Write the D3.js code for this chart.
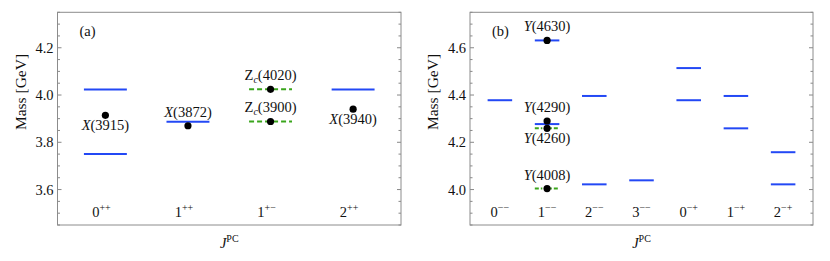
<!DOCTYPE html>
<html>
<head>
<meta charset="utf-8">
<script src="https://cdn.jsdelivr.net/npm/d3@7"></script>
<style>
  body { margin: 0; background: #fff; }
  svg text { font-family: "Liberation Serif", "Times New Roman", serif; fill: #111; }
</style>
</head>
<body>
<svg width="830" height="261"></svg>
<script>
// ---- panel (a) data ----
var jA  = ["0", "1", "1", "2"];
var pcA = ["++", "++", "+\u2212", "++"];
// predicted levels (blue solid)
var levelsA = [
  {c: 0, m: 4.023}, {c: 0, m: 3.750},
  {c: 1, m: 3.887},
  {c: 3, m: 4.023}
];
// molecular levels (green dashed)
var molA = [ {c: 2, m: 4.024}, {c: 2, m: 3.888} ];
// observed states
var statesA = [
  {c: 0, m: 3.914, sym: "X", num: "3915", pos: "below"},
  {c: 1, m: 3.870, sym: "X", num: "3872", pos: "above"},
  {c: 2, m: 4.024, sym: "Z", sub: "c", num: "4020", pos: "above"},
  {c: 2, m: 3.888, sym: "Z", sub: "c", num: "3900", pos: "above"},
  {c: 3, m: 3.940, sym: "X", num: "3940", pos: "below"}
];
var ticksA = [3.6, 3.8, 4.0, 4.2];

// ---- panel (b) data ----
var jB  = ["0", "1", "2", "3", "0", "1", "2"];
var pcB = ["\u2212\u2212", "\u2212\u2212", "\u2212\u2212", "\u2212\u2212", "\u2212+", "\u2212+", "\u2212+"];
var levelsB = [
  {c: 0, m: 4.378},
  {c: 1, m: 4.631}, {c: 1, m: 4.277},
  {c: 2, m: 4.396}, {c: 2, m: 4.022},
  {c: 3, m: 4.039},
  {c: 4, m: 4.514}, {c: 4, m: 4.378},
  {c: 5, m: 4.396}, {c: 5, m: 4.259},
  {c: 6, m: 4.158}, {c: 6, m: 4.022}
];
var molB = [ {c: 1, m: 4.259}, {c: 1, m: 4.004} ];
var statesB = [
  {c: 1, m: 4.631, sym: "Y", num: "4630", pos: "above"},
  {c: 1, m: 4.290, sym: "Y", num: "4290", pos: "above"},
  {c: 1, m: 4.259, sym: "Y", num: "4260", pos: "below"},
  {c: 1, m: 4.004, sym: "Y", num: "4008", pos: "above"}
];
var ticksB = [4.0, 4.2, 4.4, 4.6];

var blue = "#2348f5", green = "#3aa51c";
var svg = d3.select("svg");
var top_ = 12.3, bottom = 225;

function txt(g) {
  return g.append("text").style("font-family", "'Liberation Serif', serif").style("font-size", "14.5px");
}

function panel(opt) {
  var g = svg.append("g");
  var x = d3.scalePoint()
    .domain(d3.range(opt.j.length))
    .range([opt.left, opt.right])
    .padding(opt.pad);
  var y = d3.scaleLinear().domain(opt.ydom).range([bottom, top_]);
  var half = x.step() * 0.26;

  // ticks left & right, inside the frame
  var minor = d3.range(Math.ceil(opt.ydom[0] / 0.05 - 1e-6), Math.floor(opt.ydom[1] / 0.05 + 1e-6) + 1)
    .map(function(k) { return +(k * 0.05).toFixed(2); });
  minor.forEach(function(v) {
    var isMajor = opt.ticks.some(function(t) { return Math.abs(t - v) < 1e-6; });
    var len = isMajor ? 4 : 2.5;
    g.append("line").attr("x1", opt.left).attr("x2", opt.left + len)
      .attr("y1", y(v)).attr("y2", y(v)).attr("stroke", "#888").attr("stroke-width", 1);
    g.append("line").attr("x1", opt.right).attr("x2", opt.right - len)
      .attr("y1", y(v)).attr("y2", y(v)).attr("stroke", "#888").attr("stroke-width", 1);
  });
  opt.ticks.forEach(function(d) {
    txt(g).attr("x", opt.left - 4).attr("y", y(d))
      .attr("dy", "0.35em").attr("text-anchor", "end")
      .text(d3.format(".1f")(d));
  });

  // frame
  g.append("rect").attr("x", opt.left).attr("y", top_)
    .attr("width", opt.right - opt.left).attr("height", bottom - top_)
    .attr("fill", "none").attr("stroke", "#8c8c8c").attr("stroke-width", 1);

  // category labels
  opt.j.forEach(function(jv, i) {
    var t = txt(g).attr("x", x(i) + opt.labShift).attr("y", 217)
      .attr("text-anchor", "middle");
    t.append("tspan").text(jv);
    t.append("tspan").attr("dy", -6).style("font-size", "10px").text(opt.pc[i]);
  });

  // levels
  g.selectAll(".lv").data(opt.levels).enter().append("line")
    .attr("x1", function(d) { return x(d.c) - half; })
    .attr("x2", function(d) { return x(d.c) + half; })
    .attr("y1", function(d) { return y(d.m); })
    .attr("y2", function(d) { return y(d.m); })
    .attr("stroke", blue).attr("stroke-width", 2);
  g.selectAll(".mv").data(opt.mol).enter().append("line")
    .attr("x1", function(d) { return x(d.c) - half; })
    .attr("x2", function(d) { return x(d.c) + half; })
    .attr("y1", function(d) { return y(d.m); })
    .attr("y2", function(d) { return y(d.m); })
    .attr("stroke", green).attr("stroke-width", 2)
    .attr("stroke-dasharray", opt.dash);

  // observed states
  g.selectAll(".st").data(opt.states).enter().append("circle")
    .attr("cx", function(d) { return x(d.c); })
    .attr("cy", function(d) { return y(d.m); })
    .attr("r", 3.6).attr("fill", "#000");
  opt.states.forEach(function(d) {
    var by = d.pos == "above" ? y(d.m) - 9 : y(d.m) + 15;
    var t = txt(g).attr("x", x(d.c)).attr("y", by).attr("text-anchor", "middle");
    if (d.sub) {
      t.append("tspan").text(d.sym);
      t.append("tspan").attr("dy", 3).style("font-size", "10px").style("font-style", "italic").text(d.sub);
      t.append("tspan").attr("dy", -3).text("(" + d.num + ")");
    } else {
      t.append("tspan").style("font-style", "italic").text(d.sym);
      t.append("tspan").text("(" + d.num + ")");
    }
  });

  // panel tag
  txt(g).attr("x", opt.left + 22).attr("y", 36).text(opt.tag);

  // axis titles
  var cx = (opt.left + opt.right) / 2;
  var jt = txt(g).attr("x", cx).attr("y", 248).attr("text-anchor", "middle");
  jt.append("tspan").style("font-style", "italic").text("J");
  jt.append("tspan").attr("dy", -6).style("font-size", "10px").text("PC");

  txt(g)
    .attr("transform", "translate(" + (opt.left - 32) + "," + 92 + ") rotate(-90)")
    .attr("text-anchor", "middle").style("font-size", "15.5px")
    .text("Mass [GeV]");
}

panel({
  left: 57.5, right: 401, ydom: [3.45, 4.35], pad: 0.58, labShift: -4,
  j: jA, pc: pcA, levels: levelsA, mol: molA, states: statesA, ticks: ticksA,
  dash: "5,3", tag: "(a)"
});
panel({
  left: 470, right: 813, ydom: [3.85, 4.75], pad: 0.633, labShift: 0,
  j: jB, pc: pcB, levels: levelsB, mol: molB, states: statesB, ticks: ticksB,
  dash: "4,2,1.5,2", tag: "(b)"
});
</script>
</body>
</html>
